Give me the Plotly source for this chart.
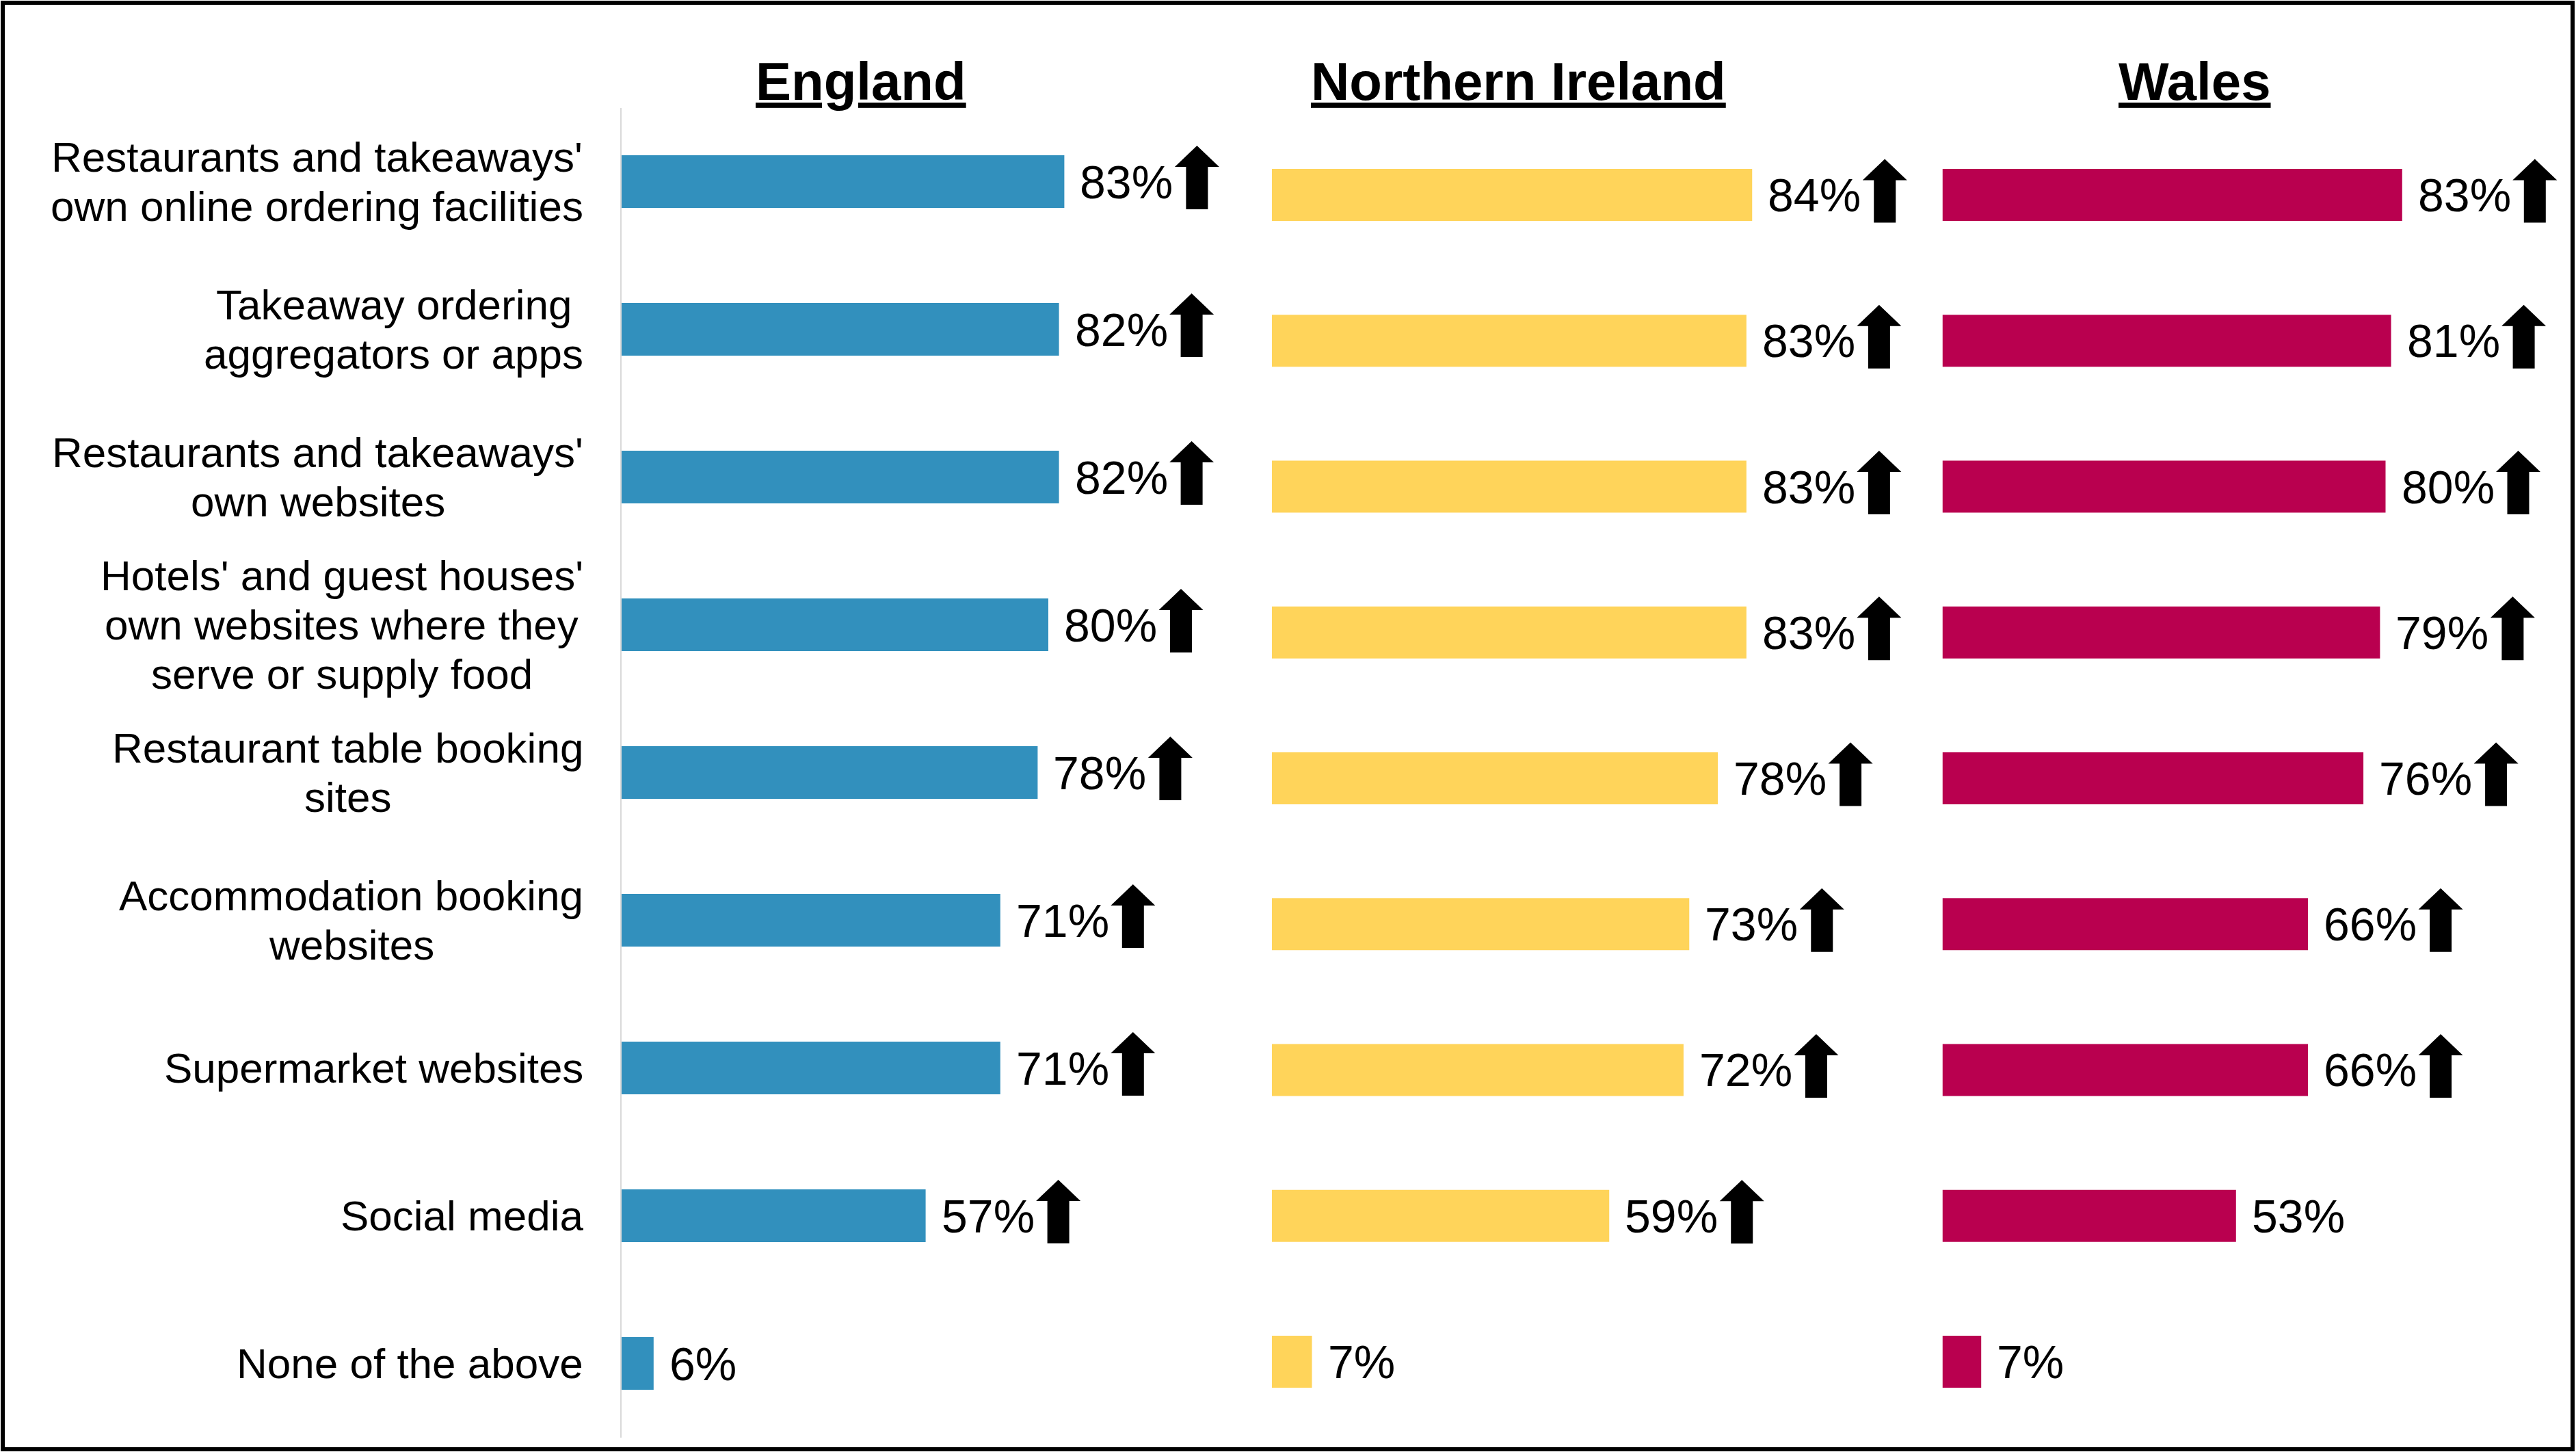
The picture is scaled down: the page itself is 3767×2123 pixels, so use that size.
import plotly.graph_objects as go

W, H = 3767, 2123

categories = [
    "Restaurants and takeaways'<br>own online ordering facilities",
    "Takeaway ordering<br>aggregators or apps",
    "Restaurants and takeaways'<br>own websites",
    "Hotels' and guest houses'<br>own websites where they<br>serve or supply food",
    "Restaurant table booking<br>sites",
    "Accommodation booking<br>websites",
    "Supermarket websites",
    "Social media",
    "None of the above",
]
countries = ["England", "Northern Ireland", "Wales"]
england = [83, 82, 82, 80, 78, 71, 71, 57, 6]
northern_ireland = [84, 83, 83, 83, 78, 73, 72, 59, 7]
wales = [83, 81, 80, 79, 76, 66, 66, 53, 7]
england_up = [True, True, True, True, True, True, True, True, False]
ni_up = [True, True, True, True, True, True, True, True, False]
wales_up = [True, True, True, True, True, True, True, False, False]

values = [england, northern_ireland, wales]
ups = [england_up, ni_up, wales_up]
colors = ["#3290BD", "#FFD45A", "#B9004F"]

# panel geometry (pixels)
x_start_px = [909, 1860, 2840.5]
px_per_pct = [7.80, 8.36, 8.10]
x_max = [115, 115, 112]
y_dom_px = [(157.5, 2101.5), (178.4, 2097.6), (178.4, 2097.6)]
title_x_px = [1259, 2220, 3209]

FONT = "Liberation Sans, Arial, sans-serif"
LABEL_SIZE = 62
LINE_PX = 72
LABEL_RIGHT = 853

# Arial advance widths (1/1000 em) used to centre multi-line labels
AW = {" ": 278, "'": 191, "A": 667, "H": 722, "N": 722, "R": 722, "S": 667,
      "T": 611, "a": 556, "b": 556, "c": 500, "d": 556, "e": 556, "f": 278,
      "g": 556, "h": 556, "i": 222, "k": 500, "l": 222, "m": 833, "n": 556,
      "o": 556, "p": 556, "r": 333, "s": 500, "t": 278, "u": 556, "v": 500,
      "w": 722, "y": 500}


def text_w(s):
    return sum(AW.get(ch, 556) for ch in s) / 1000 * LABEL_SIZE


fig = go.Figure()
for i in range(3):
    sfx = "" if i == 0 else str(i + 1)
    fig.add_trace(go.Bar(
        x=values[i], y=categories, orientation="h",
        marker=dict(color=colors[i], line=dict(width=0)),
        width=0.356, xaxis="x" + sfx, yaxis="y" + sfx,
        hoverinfo="skip",
    ))
    x0 = x_start_px[i]
    x1 = x0 + px_per_pct[i] * x_max[i]
    yd = y_dom_px[i]
    fig.layout["xaxis" + sfx] = dict(
        domain=[x0 / W, x1 / W], range=[0, x_max[i]], visible=False,
        anchor="y" + sfx, fixedrange=True)
    fig.layout["yaxis" + sfx] = dict(
        domain=[(H - yd[1]) / H, (H - yd[0]) / H], range=[8.5, -0.5],
        type="category", showticklabels=False, ticks="", showgrid=False,
        zeroline=False, showline=(i == 0), linecolor="#d9d9d9", linewidth=2,
        anchor="x" + sfx, fixedrange=True)

annotations = []
shapes = []
# row labels: lines centred on each other, block right-aligned
for j, cat in enumerate(categories):
    lines = cat.split("<br>")
    block_w = max(text_w(s) for s in lines)
    cx = LABEL_RIGHT - block_w / 2
    n = len(lines)
    for k, line in enumerate(lines):
        annotations.append(dict(
            text=line, x=cx / W, xref="paper", y=j, yref="y",
            xanchor="center", yanchor="middle", showarrow=False,
            yshift=-(k - (n - 1) / 2) * LINE_PX,
            font=dict(family=FONT, size=LABEL_SIZE, color="black")))

# value labels and arrows
head_half, shaft_half, c = 32.5, 16, 194
tip, base, bottom = 52.5, 21.5, -40.5
arrow_path = (f"M {c - shaft_half},{bottom} L {c + shaft_half},{bottom} "
              f"L {c + shaft_half},{base} L {c + head_half},{base} L {c},{tip} "
              f"L {c - head_half},{base} L {c - shaft_half},{base} Z")
for i in range(3):
    sfx = "" if i == 0 else str(i + 1)
    for j, v in enumerate(values[i]):
        annotations.append(dict(
            text=f"{v}%", x=v, xref="x" + sfx, y=j, yref="y" + sfx,
            xanchor="left", yanchor="middle", xshift=21, showarrow=False,
            font=dict(family=FONT, size=68, color="black")))
        if ups[i][j]:
            shapes.append(dict(
                type="path", xref="x" + sfx, yref="y" + sfx,
                xsizemode="pixel", ysizemode="pixel", xanchor=v, yanchor=j,
                path=arrow_path, fillcolor="black", line=dict(width=0)))

# panel titles
for i, name in enumerate(countries):
    annotations.append(dict(
        text=f"<b><u>{name}</u></b>", x=title_x_px[i] / W, xref="paper",
        y=(H - 119) / H, yref="paper", xanchor="center", yanchor="middle",
        showarrow=False, font=dict(family=FONT, size=78, color="black")))

# outer frame
shapes.append(dict(type="rect", xref="paper", yref="paper",
                   x0=4 / W, x1=3762 / W, y0=(H - 2119) / H, y1=(H - 4) / H,
                   line=dict(color="black", width=6), fillcolor="rgba(0,0,0,0)"))

fig.update_layout(
    width=W, height=H, margin=dict(l=0, r=0, t=0, b=0),
    paper_bgcolor="white", plot_bgcolor="rgba(0,0,0,0)", showlegend=False,
    annotations=annotations, shapes=shapes,
)
fig.write_html(
    "out.html",
    config={"displayModeBar": False, "staticPlot": True},
    post_script="document.body.style.margin='0';document.body.style.overflow='hidden';",
)
